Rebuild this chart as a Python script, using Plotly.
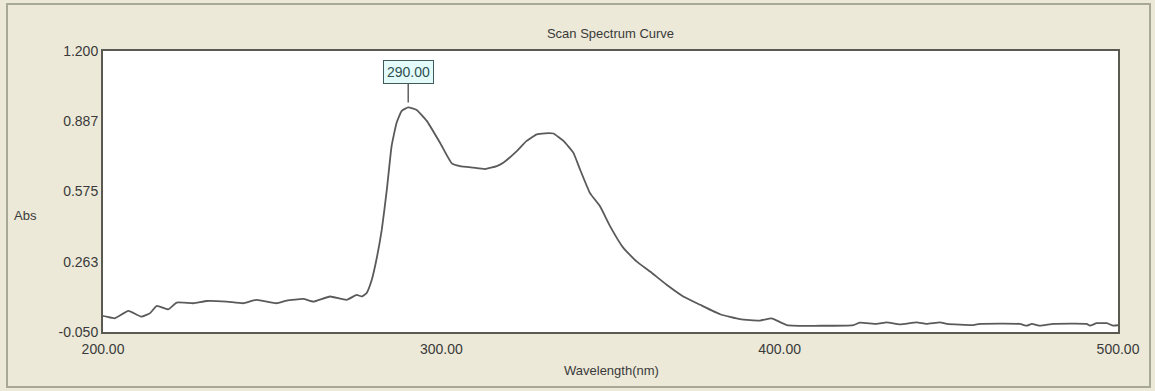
import plotly.graph_objects as go

wavelength = [200.0, 200.1, 203.5, 207.5, 211.4, 213.9, 215.9, 219.3, 221.8, 226.7, 230.7, 236.6, 241.4,
              245.4, 251.3, 254.3, 259.2, 262.2, 267.1, 272.0, 275.0, 276.5, 277.9, 279.4, 280.9,
              282.4, 283.9, 285.3, 286.8, 288.3, 290.2, 292.7, 295.7, 299.6, 303.1, 305.5, 309.4,
              312.9, 316.4, 318.3, 322.3, 325.2, 328.2, 330.6, 333.1, 336.1, 339.0, 341.0, 343.9,
              346.9, 349.9, 353.8, 357.7, 361.7, 366.6, 371.5, 376.5, 382.4, 388.3, 394.2, 397.6,
              402.1, 421.8, 423.7, 428.7, 431.6, 435.6, 440.5, 443.4, 447.4, 449.4, 457.2, 459.2,
              471.0, 473.0, 474.5, 477.0, 480.9, 490.7, 491.7, 493.7, 496.7, 498.6, 500.0]
absorbance = [0.018, 0.021, 0.011, 0.044, 0.018, 0.034, 0.066, 0.051, 0.081, 0.078, 0.088, 0.085, 0.078,
              0.093, 0.078, 0.090, 0.097, 0.085, 0.108, 0.093, 0.115, 0.108, 0.123, 0.180, 0.278,
              0.405, 0.584, 0.777, 0.882, 0.934, 0.949, 0.938, 0.889, 0.792, 0.700, 0.688, 0.681,
              0.675, 0.688, 0.703, 0.755, 0.800, 0.829, 0.834, 0.833, 0.800, 0.748, 0.673, 0.569,
              0.509, 0.420, 0.324, 0.264, 0.219, 0.160, 0.108, 0.071, 0.029, 0.007, 0.001, 0.011,
              -0.019, -0.019, -0.008, -0.014, -0.007, -0.016, -0.007, -0.014, -0.007, -0.014, -0.019, -0.014,
              -0.014, -0.022, -0.014, -0.022, -0.014, -0.014, -0.022, -0.011, -0.011, -0.022, -0.020]

y_tick_vals = [1.2, 0.8875, 0.575, 0.2625, -0.05]
y_tick_text = ["1.200", "0.887", "0.575", "0.263", "-0.050"]
x_tick_vals = [200, 300, 400, 500]
x_tick_text = ["200.00", "300.00", "400.00", "500.00"]

peak_wl = 290.2
peak_abs = 0.949
peak_label = "290.00"

FONT = "Liberation Sans, Arial, sans-serif"
TXT = "#3a3a3a"

fig = go.Figure()
fig.add_trace(go.Scatter(x=wavelength, y=absorbance, mode="lines",
                         line=dict(color="#5a5a5a", width=1.8, shape="spline", smoothing=0.4),
                         showlegend=False, hoverinfo="skip"))

fig.update_layout(
    width=1155, height=391,
    margin=dict(l=103, r=37, t=51, b=59),
    paper_bgcolor="#ECE9D8",
    plot_bgcolor="#FFFFFF",
    font=dict(family=FONT, size=13, color=TXT),
    title=dict(text="Scan Spectrum Curve", x=0.5, xref="paper", y=1 - 33 / 391,
               yanchor="middle", xanchor="center",
               font=dict(family=FONT, size=13, color=TXT)),
)
fig.update_xaxes(range=[200, 500], tickvals=x_tick_vals, ticktext=x_tick_text,
                 showgrid=False, zeroline=False, showline=True, mirror=True,
                 linecolor="#5a5a52", linewidth=2, ticks="", ticklen=0,
                 ticklabelstandoff=3,
                 tickfont=dict(family=FONT, size=14, color=TXT))
fig.update_yaxes(range=[-0.05, 1.2], tickvals=y_tick_vals, ticktext=y_tick_text,
                 showgrid=False, zeroline=False, showline=True, mirror=True,
                 linecolor="#5a5a52", linewidth=2, ticks="", ticklen=0,
                 tickfont=dict(family=FONT, size=14, color=TXT))

fig.add_annotation(x=peak_wl, y=peak_abs, text=peak_label, showarrow=True,
                   arrowhead=0, arrowwidth=1.2, arrowcolor="#3a3a3a", ax=0, ay=-35,
                   standoff=5, bgcolor="#E3FBFB", bordercolor="#3f5a5a", borderwidth=1,
                   borderpad=3, font=dict(family=FONT, size=14, color="#2f4f4f"))

fig.add_annotation(text="Abs", xref="paper", yref="paper", x=(25 - 103) / 1015,
                   y=(332 - 215) / 281, showarrow=False, xanchor="center", yanchor="middle",
                   font=dict(family=FONT, size=13, color=TXT))
fig.add_annotation(text="Wavelength(nm)", xref="paper", yref="paper", x=(611 - 103) / 1015,
                   y=(332 - 371) / 281, showarrow=False, xanchor="center", yanchor="middle",
                   font=dict(family=FONT, size=13, color=TXT))

# window frame
fig.add_shape(type="rect", xref="paper", yref="paper",
              x0=(7 - 103) / 1015, x1=(1150 - 103) / 1015,
              y0=(332 - 387) / 281, y1=(332 - 4) / 281,
              line=dict(color="#A8A898", width=2), layer="below")

fig.write_html("out.html")
